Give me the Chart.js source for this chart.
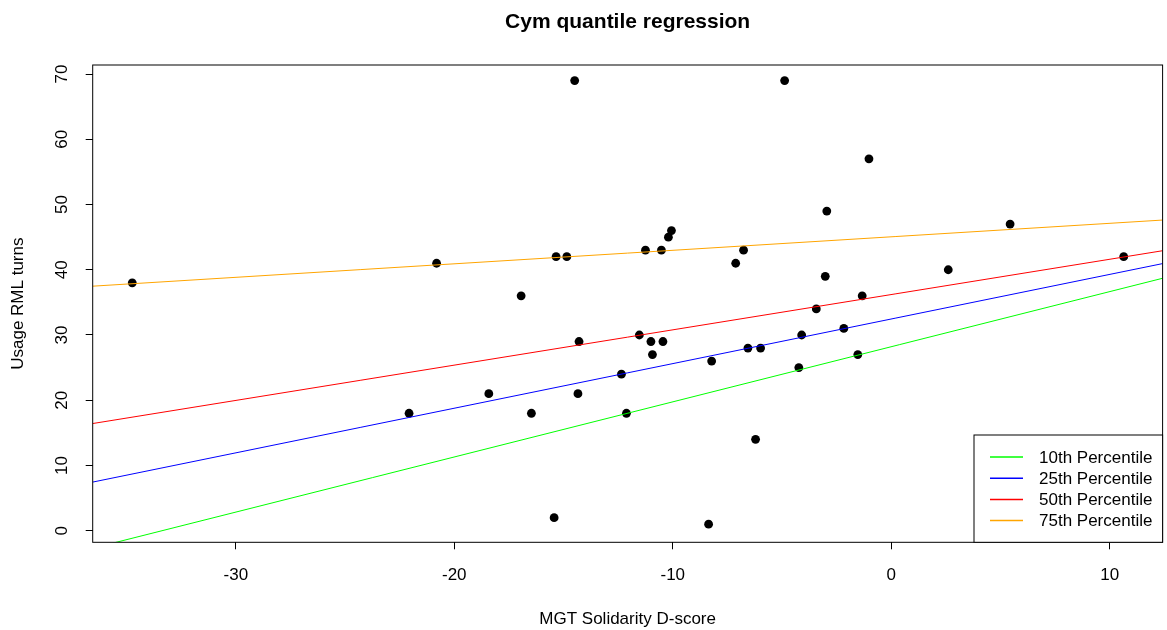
<!DOCTYPE html>
<html>
<head>
<meta charset="utf-8">
<script src="https://cdn.jsdelivr.net/npm/chart.js@4.4.1/dist/chart.umd.min.js"></script>
<style>
  html, body { margin: 0; padding: 0; background: #fff; }
  #wrap { width: 1167px; height: 630px; }
</style>
</head>
<body>
<div id="wrap"><canvas id="qr"></canvas></div>
<script>
// D-score and RML turn counts per participant
var dScore = [-34.74, -20.81, -14.49, -4.88, -1.02, -2.95, -10.06, -10.20, -15.34, -14.85,
              -11.25, -10.52, -6.76, -7.12, -3.02, -16.94, 5.44, 2.61, 10.64, -1.33,
              -22.07, -18.42, -3.43, -14.29, -11.53, -11.00, -10.45, -10.93, -6.56, -5.98,
              -4.10, -2.17, -8.22, -1.53, -4.23, -12.35, -14.34, -16.47, -12.12, -6.21,
              -15.43, -8.36];
var rmlTurns = [38, 41, 69, 69, 57, 49, 46, 45, 42, 42,
                43, 43, 43, 41, 39, 36, 47, 40, 42, 36,
                18, 21, 34, 29, 30, 29, 29, 27, 28, 28,
                30, 31, 26, 27, 25, 24, 21, 18, 18, 14,
                2, 1];

// fitted quantile lines
var qLabels = ['10th Percentile', '25th Percentile', '50th Percentile', '75th Percentile'];
var qColors = ['#00ff00', '#0000ff', '#ff0000', '#ffa500'];
var qIntercepts = [28.2, 32.45, 36.2, 45.05];
var qSlopes = [0.845, 0.684, 0.541, 0.207];

var xTicks = [-30, -20, -10, 0, 10];
var yTicks = [0, 10, 20, 30, 40, 50, 60, 70];
var xMin = -36.55, xMax = 12.42;
var yMin = -1.78, yMax = 71.39;

var FONT = '"Liberation Sans", Arial, sans-serif';

var datasets = [{
    type: 'scatter',
    label: 'obs',
    data: dScore.map(function (x, i) { return {x: x, y: rmlTurns[i]}; }),
    backgroundColor: '#000',
    borderColor: '#000',
    pointRadius: 4.4,
    pointHoverRadius: 4.4,
    borderWidth: 0,
    order: 2
}];
qLabels.forEach(function (lab, i) {
    datasets.push({
        type: 'line',
        label: lab,
        data: [xMin, xMax].map(function (x) { return {x: x, y: qIntercepts[i] + qSlopes[i] * x}; }),
        borderColor: qColors[i],
        borderWidth: 1,
        pointRadius: 0,
        fill: false,
        order: 1
    });
});

// title, axis titles, rotated y labels, box and legend in R style
var rStyle = {
    id: 'rStyle',
    afterDraw: function (chart) {
        var ctx = chart.ctx, a = chart.chartArea;
        var ys = chart.scales.y;
        var cx = (a.left + a.right) / 2;
        ctx.save();
        ctx.fillStyle = '#000';
        ctx.textAlign = 'center';
        ctx.textBaseline = 'middle';

        ctx.font = 'bold 21px ' + FONT;
        ctx.fillText('Cym quantile regression', cx, 22);

        ctx.font = '17px ' + FONT;
        ctx.fillText('MGT Solidarity D-score', cx, 619);

        ctx.save();
        ctx.translate(18, (a.top + a.bottom) / 2);
        ctx.rotate(-Math.PI / 2);
        ctx.fillText('Usage RML turns', 0, 0);
        ctx.restore();

        ys.ticks.forEach(function (t) {
            ctx.save();
            ctx.translate(62, ys.getPixelForValue(t.value));
            ctx.rotate(-Math.PI / 2);
            ctx.fillText(String(t.value), 0, 0);
            ctx.restore();
        });

        ctx.strokeStyle = '#000';
        ctx.lineWidth = 1;
        ctx.strokeRect(a.left, a.top, a.right - a.left, a.bottom - a.top);

        // legend, bottom right
        var lx = 974, ly = 435;
        ctx.fillStyle = '#fff';
        ctx.fillRect(lx, ly, a.right - lx, a.bottom - ly);
        ctx.strokeRect(lx, ly, a.right - lx, a.bottom - ly);
        ctx.textAlign = 'left';
        ctx.font = '17px ' + FONT;
        chart.data.datasets.slice(1).forEach(function (ds, i) {
            var y = 457 + i * 21.2;
            ctx.strokeStyle = ds.borderColor;
            ctx.lineWidth = 1.5;
            ctx.beginPath();
            ctx.moveTo(990, y);
            ctx.lineTo(1023, y);
            ctx.stroke();
            ctx.fillStyle = '#000';
            ctx.fillText(ds.label, 1039, y + 1);
        });
        ctx.restore();
    }
};

new Chart(document.getElementById('qr'), {
    data: {datasets: datasets},
    options: {
        responsive: true,
        maintainAspectRatio: false,
        animation: false,
        events: [],
        layout: {padding: {top: 65, right: 3.7, left: 0, bottom: 0}},
        plugins: {legend: {display: false}, title: {display: false}, tooltip: {enabled: false}},
        scales: {
            x: {
                type: 'linear',
                min: xMin,
                max: xMax,
                afterBuildTicks: function (s) { s.ticks = xTicks.map(function (v) { return {value: v}; }); },
                afterFit: function (s) { s.height = 87.7; },
                border: {display: false},
                grid: {drawOnChartArea: false, tickLength: 7, tickColor: '#000', color: '#000'},
                ticks: {color: '#000', font: {family: FONT, size: 17}, padding: 16, maxRotation: 0, autoSkip: false}
            },
            y: {
                type: 'linear',
                min: yMin,
                max: yMax,
                afterBuildTicks: function (s) { s.ticks = yTicks.map(function (v) { return {value: v}; }); },
                afterFit: function (s) { s.width = 92.7; },
                border: {display: false},
                grid: {drawOnChartArea: false, tickLength: 7, tickColor: '#000', color: '#000'},
                ticks: {display: false}
            }
        }
    },
    plugins: [rStyle]
});
</script>
</body>
</html>
